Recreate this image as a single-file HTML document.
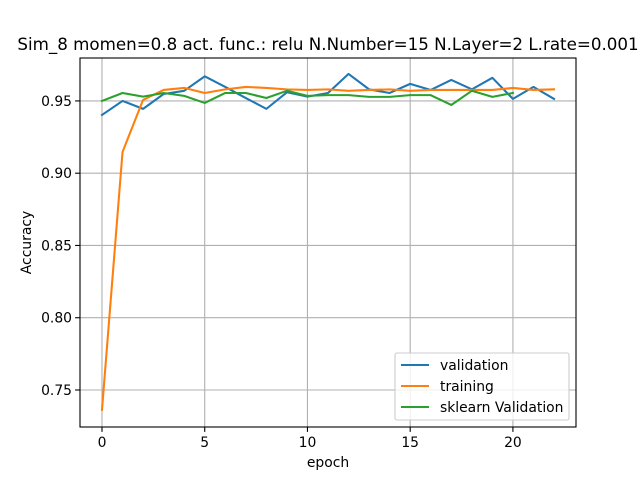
<!DOCTYPE html>
<html><head><meta charset="utf-8"><style>
body{margin:0;background:#fff;font-family:"Liberation Sans","DejaVu Sans",sans-serif}
svg text{font-family:"DejaVu Sans","Liberation Sans",sans-serif}
</style></head><body>
<svg id="c" width="640" height="480" xmlns="http://www.w3.org/2000/svg"></svg>
<script>
const epochs=[0,1,2,3,4,5,6,7,8,9,10,11,12,13,14,15,16,17,18,19,20,21,22];
const validation=[0.9403,0.95,0.9445,0.9548,0.957,0.967,0.9597,0.952,0.9445,0.956,0.953,0.9555,0.9687,0.958,0.9555,0.9618,0.9576,0.9645,0.958,0.966,0.9514,0.9597,0.9514];
const training=[0.7363,0.9147,0.9507,0.9576,0.959,0.9555,0.958,0.9597,0.959,0.958,0.9576,0.958,0.957,0.9576,0.958,0.957,0.9576,0.9576,0.9576,0.9576,0.959,0.9576,0.958];
const sklearnVal=[0.95,0.9555,0.953,0.9555,0.9535,0.9486,0.9555,0.9555,0.952,0.957,0.9535,0.954,0.954,0.9528,0.9528,0.954,0.954,0.9472,0.957,0.9528,0.9555];
const xTicks=[0,5,10,15,20];
const yTicks=[0.75,0.80,0.85,0.90,0.95];
const L=80,R=576,T=58,B=427,xmin=-1.07,xmax=23.07,ymin=0.7244,ymax=0.9797;
const sx=v=>L+(v-xmin)/(xmax-xmin)*(R-L);
const sy=v=>B-(v-ymin)/(ymax-ymin)*(B-T);
const svg=document.getElementById('c');
const NS='http://www.w3.org/2000/svg';
function mk(t,a,p){const e=document.createElementNS(NS,t);for(const k in a)e.setAttribute(k,a[k]);(p||svg).appendChild(e);return e;}
xTicks.forEach(t=>{
 const g=mk('line',{x1:sx(t),x2:sx(t),y1:T,y2:B,stroke:'#b0b0b0','stroke-width':1.1});
 
 
 mk('line',{x1:sx(t),x2:sx(t),y1:B,y2:B+4.9,stroke:'#000','stroke-width':1.1});
 const tx=mk('text',{x:sx(t),y:B+20,'font-size':13.9,'text-anchor':'middle'});tx.textContent=t;
 
 
});
yTicks.forEach(t=>{
 const g=mk('line',{x1:L,x2:R,y1:sy(t),y2:sy(t),stroke:'#b0b0b0','stroke-width':1.1});
 
 
 mk('line',{x1:L-4.9,x2:L,y1:sy(t),y2:sy(t),stroke:'#000','stroke-width':1.1});
 const tx=mk('text',{x:L-8,y:sy(t)+5,'font-size':13.9,'text-anchor':'end'});tx.textContent=t.toFixed(2);
 
 
});
function line(data,color,name){
 const p=mk('polyline',{points:data.map((v,i)=>sx(epochs[i])+','+sy(v)).join(' '),fill:'none',stroke:color,'stroke-width':2.08,'stroke-linejoin':'round','stroke-linecap':'square'});
 
 
}
line(validation,'#1f77b4','validation-line');
line(training,'#ff7f0e','training-line');
line(sklearnVal,'#2ca02c','sklearn-validation-line');
const fr=mk('rect',{x:L,y:T,width:R-L,height:B-T,fill:'none',stroke:'#000','stroke-width':1.1});


let t=mk('text',{x:(L+R)/2,y:T-8,'font-size':16.7,'text-anchor':'middle'});t.textContent='Sim_8 momen=0.8 act. func.: relu N.Number=15 N.Layer=2 L.rate=0.001';


t=mk('text',{x:(L+R)/2,y:467,'font-size':13.9,'text-anchor':'middle'});t.textContent='epoch';


t=mk('text',{x:0,y:0,'font-size':13.9,'text-anchor':'middle',transform:'translate(31,'+((T+B)/2)+') rotate(-90)'});t.textContent='Accuracy';


const lg=mk('g',{});


mk('rect',{x:395,y:353,width:174,height:67,rx:2,fill:'#fff','fill-opacity':0.8,stroke:'#ccc','stroke-width':1.1},lg);
[['validation','#1f77b4'],['training','#ff7f0e'],['sklearn Validation','#2ca02c']].forEach((e,i)=>{
 const y=365+i*21;
 mk('line',{x1:401,x2:429,y1:y,y2:y,stroke:e[1],'stroke-width':2.08},lg);
 const tx=mk('text',{x:440,y:y+5,'font-size':13.9},lg);tx.textContent=e[0];
 
 
});
</script>
</body></html>
